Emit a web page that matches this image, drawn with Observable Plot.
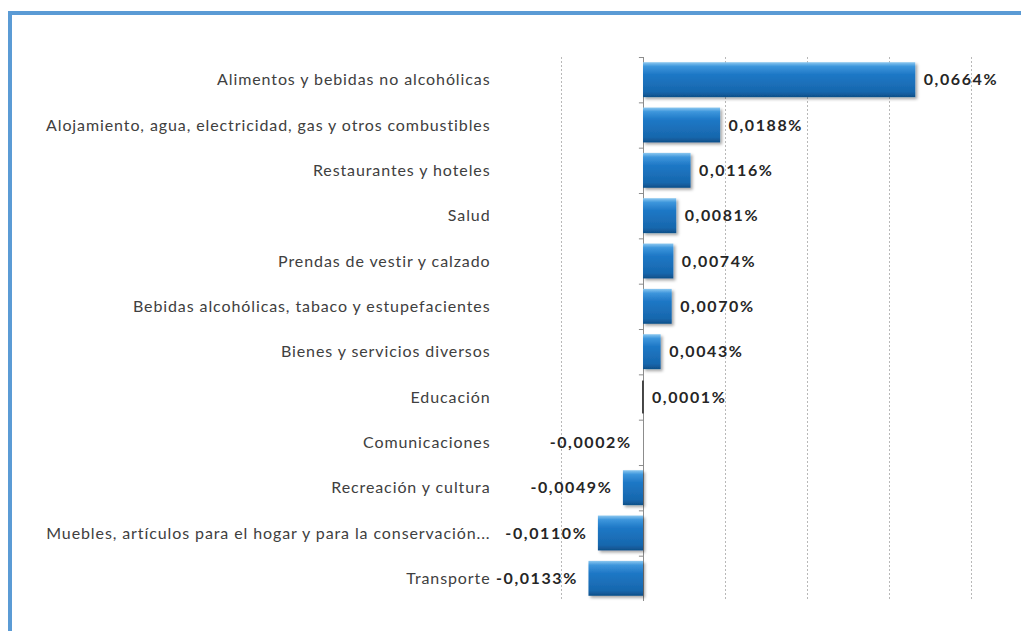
<!DOCTYPE html>
<html>
<head>
<meta charset="utf-8">
<script src="https://cdn.jsdelivr.net/npm/d3@7"></script>
<script src="https://cdn.jsdelivr.net/npm/@observablehq/plot@0.6"></script>
<style>
  html, body { margin: 0; padding: 0; background: #fff; }
  #wrap { position: relative; width: 1021px; height: 631px; overflow: hidden; }
  #frame { position: absolute; left: 8px; top: 11px; width: 1100px; height: 700px;
           border-left: 4px solid #5b9bd5; border-top: 4px solid #5b9bd5; box-sizing: border-box; }
  #chart { position: absolute; left: 0; top: 0; }
  #chart g[aria-label="y-axis tick label"] text { letter-spacing: 0.9px; }
  #chart g[aria-label="text"] text { letter-spacing: 1.6px; }
</style>
</head>
<body>
<div id="wrap">
  <div id="frame"></div>
  <div id="chart"></div>
</div>
<script>
const categories = [
  "Alimentos y bebidas no alcohólicas",
  "Alojamiento, agua, electricidad, gas y otros combustibles",
  "Restaurantes y hoteles",
  "Salud",
  "Prendas de vestir y calzado",
  "Bebidas alcohólicas, tabaco y estupefacientes",
  "Bienes y servicios diversos",
  "Educación",
  "Comunicaciones",
  "Recreación y cultura",
  "Muebles, artículos para el hogar y para la conservación...",
  "Transporte"
];
const values = [0.0664, 0.0188, 0.0116, 0.0081, 0.0074, 0.0070, 0.0043, 0.0001, -0.0002, -0.0049, -0.0110, -0.0133];
const gridTicks = [-0.02, 0.02, 0.04, 0.06, 0.08];

const data = categories.map((c, i) => ({category: c, value: values[i]}));
const fmt = v => d3.format(".4f")(v).replace("−", "-").replace(".", ",") + "%";
const font = "Lato, 'Open Sans', sans-serif";

const plot = Plot.plot({
  width: 1021,
  height: 631,
  marginLeft: 561,
  marginRight: 50,
  marginTop: 57,
  marginBottom: 30,
  style: {fontFamily: font, fontSize: "16px", color: "#404040", background: "transparent"},
  x: {domain: [-0.02, 0.08], axis: null},
  y: {domain: categories, paddingInner: 0.23, paddingOuter: 0.115, round: false, label: null, tickSize: 0, tickPadding: 71},
  marks: [
    Plot.gridX(gridTicks, {stroke: "#b8b8b8", strokeOpacity: 1, strokeDasharray: "2,2"}),
    Plot.ruleX([0], {stroke: "#8c8c8c", strokeWidth: 1}),
    Plot.ruleY(categories, {y: d => d, x1: -0.001, x2: 0, dy: -22.65, stroke: "#8c8c8c"}),
    Plot.barX(data, {y: "category", x: "value", fill: "url(#barGrad)", filter: d => Math.abs(d.value) > 0.0005}),
    Plot.barX(data, {y: "category", x: "value", fill: "#444", insetLeft: -1, insetRight: -0.5, insetTop: 1, insetBottom: 1, filter: d => Math.abs(d.value) <= 0.0005 && d.value > 0}),
    Plot.text(data, {
      filter: d => d.value >= 0,
      y: "category", x: "value", text: d => fmt(d.value),
      textAnchor: "start", dx: 8,
      fill: "#262626", fontWeight: "bold", fontSize: 16
    }),
    Plot.text(data, {
      filter: d => d.value < 0,
      y: "category", x: "value", text: d => fmt(d.value),
      textAnchor: "end", dx: -11,
      fill: "#262626", fontWeight: "bold", fontSize: 16
    })
  ]
});

// gradient + shadow defs
const ns = "http://www.w3.org/2000/svg";
const defs = document.createElementNS(ns, "defs");
defs.innerHTML = `
  <linearGradient id="barGrad" x1="0" y1="0" x2="0" y2="1">
    <stop offset="0" stop-color="#8cc8f0"/>
    <stop offset="0.12" stop-color="#3d96dc"/>
    <stop offset="0.35" stop-color="#1f78c6"/>
    <stop offset="0.85" stop-color="#1767ad"/>
    <stop offset="1" stop-color="#0f4f88"/>
  </linearGradient>
  <filter id="shadow" x="-10%" y="-10%" width="130%" height="140%">
    <feDropShadow dx="2" dy="2" stdDeviation="1.5" flood-color="#000" flood-opacity="0.35"/>
  </filter>`;
plot.insertBefore(defs, plot.firstChild);
const barG = plot.querySelectorAll("g[aria-label='bar']")[0];
if (barG) barG.setAttribute("filter", "url(#shadow)");

document.getElementById("chart").appendChild(plot);
</script>
</body>
</html>
